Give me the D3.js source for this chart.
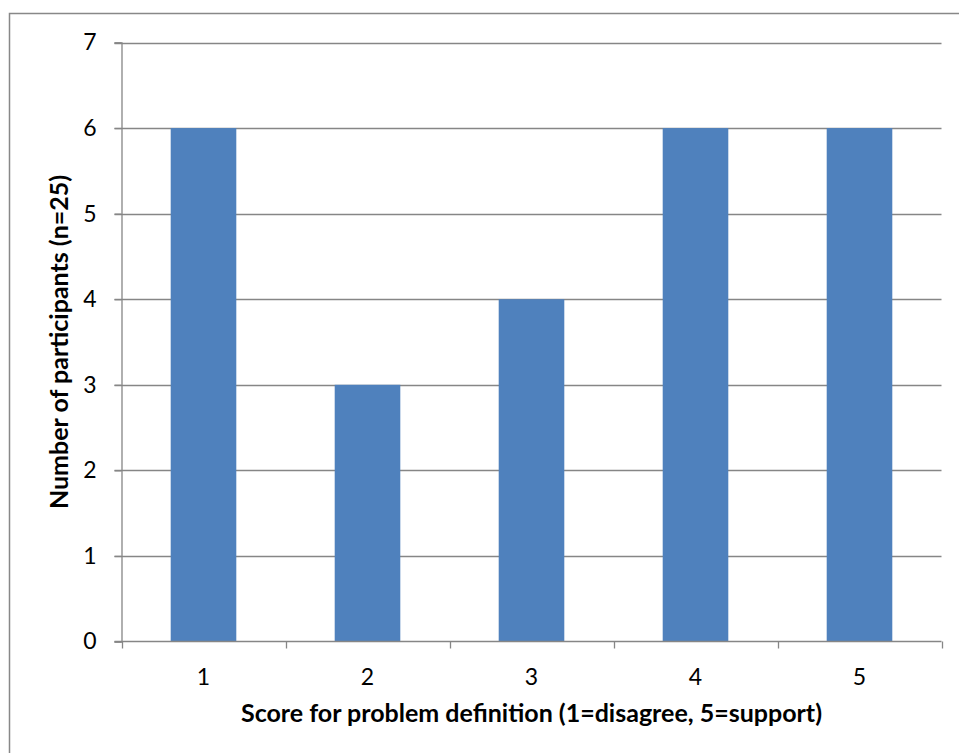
<!DOCTYPE html>
<html>
<head>
<meta charset="utf-8">
<script src="https://cdn.jsdelivr.net/npm/d3@7/dist/d3.min.js"></script>
<style>
  html, body { margin: 0; padding: 0; background: #fff; }
  svg { display: block; }
  text { font-family: Lato, "Open Sans", sans-serif; fill: #000; }
</style>
</head>
<body>
<svg id="chart" width="959" height="753"></svg>
<script>
// Participant counts per score
const scores = ["1", "2", "3", "4", "5"];
const counts = [6, 3, 4, 6, 6];
const yTicks = [0, 1, 2, 3, 4, 5, 6, 7];
const xTitle = "Score for problem definition (1=disagree, 5=support)";
const yTitle = "Number of participants (n=25)";

const W = 959, H = 753;
const plot = { left: 121.5, right: 941.5, top: 42.5, bottom: 641.5 };
const gridColor = "#868686";
const barColor = "#4f81bd";
const tickFont = 23;
const titleFont = 25;

const svg = d3.select("#chart");

// outer chart frame
svg.append("rect")
  .attr("x", 9.5).attr("y", 13.5)
  .attr("width", W).attr("height", H)
  .attr("fill", "#fff")
  .attr("stroke", "#888").attr("stroke-width", 1.5);

const xPos = d3.scaleBand().domain(scores).range([plot.left, plot.right]);
const y = d3.scaleLinear().domain([0, 7]).range([plot.bottom, plot.top]);

// horizontal gridlines
svg.append("g").selectAll("line").data(yTicks.filter(d => d > 0)).join("line")
  .attr("x1", plot.left - 7).attr("x2", plot.right)
  .attr("y1", d => Math.round(y(d)) + 0.5).attr("y2", d => Math.round(y(d)) + 0.5)
  .attr("stroke", gridColor).attr("stroke-width", 1.3);

// bars
const bw = xPos.bandwidth() * 0.4;
svg.append("g").selectAll("rect").data(scores).join("rect")
  .attr("x", d => xPos(d) + (xPos.bandwidth() - bw) / 2)
  .attr("width", bw)
  .attr("y", (d, i) => y(counts[i]))
  .attr("height", (d, i) => y(0) - y(counts[i]))
  .attr("fill", barColor);

// y axis
const yAxis = svg.append("g")
  .attr("transform", `translate(${plot.left},0)`)
  .call(d3.axisLeft(y).tickValues(yTicks).tickSize(7).tickPadding(18).tickFormat(d3.format("d")));
yAxis.select(".domain").attr("stroke", gridColor).attr("stroke-width", 1.3);
yAxis.selectAll(".tick line").attr("stroke", gridColor).attr("stroke-width", 1.3);
yAxis.selectAll(".tick text").attr("font-size", tickFont).attr("font-family", "Lato, sans-serif").attr("fill", "#000");

// x axis with ticks at band boundaries
const xAxisG = svg.append("g").attr("transform", `translate(0,${plot.bottom})`);
xAxisG.append("line").attr("x1", plot.left - 7).attr("x2", plot.right)
  .attr("stroke", gridColor).attr("stroke-width", 1.3);
const bounds = scores.map(d => xPos(d)).concat([plot.right]);
xAxisG.selectAll("line.tk").data(bounds).join("line").attr("class", "tk")
  .attr("x1", d => Math.round(d) + 0.5).attr("x2", d => Math.round(d) + 0.5)
  .attr("y1", 0).attr("y2", 7)
  .attr("stroke", gridColor).attr("stroke-width", 1.3);
xAxisG.selectAll("text").data(scores).join("text")
  .attr("x", d => xPos(d) + xPos.bandwidth() / 2)
  .attr("y", 43)
  .attr("text-anchor", "middle")
  .attr("font-size", tickFont)
  .text(d => d);

// axis titles
svg.append("text")
  .attr("x", (plot.left + plot.right) / 2).attr("y", 722)
  .attr("text-anchor", "middle")
  .attr("font-size", titleFont).attr("font-weight", "bold")
  .text(xTitle);

svg.append("text")
  .attr("transform", `translate(68,${(plot.top + plot.bottom) / 2}) rotate(-90)`)
  .attr("text-anchor", "middle")
  .attr("font-size", titleFont).attr("font-weight", "bold")
  .text(yTitle);
</script>
</body>
</html>
